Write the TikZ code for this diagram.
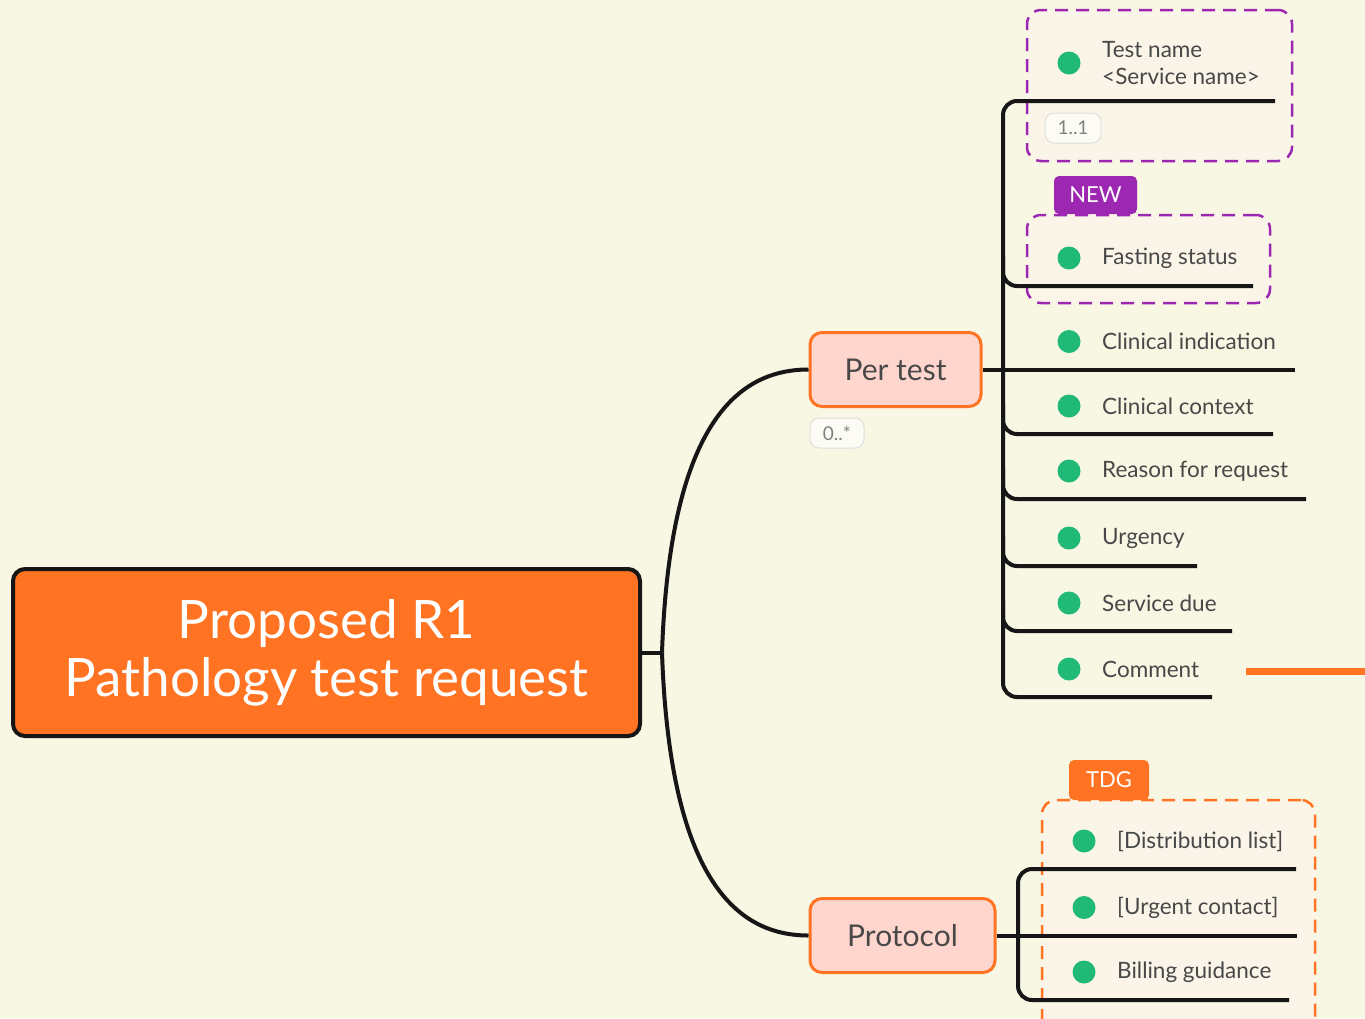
\documentclass[tikz,border=0pt]{standalone}
\usepackage{fontspec}
\setmainfont{Lato}
\usetikzlibrary{positioning}
\definecolor{cream}{RGB}{248,247,228}
\definecolor{cardfill}{RGB}{250,245,232}
\definecolor{boxorange}{RGB}{255,115,35}
\definecolor{pinkfill}{RGB}{255,214,206}
\definecolor{dotgreen}{RGB}{32,185,120}
\definecolor{tagpurple}{RGB}{156,39,176}
\definecolor{textgray}{RGB}{72,72,72}
\definecolor{branchblack}{RGB}{22,22,22}

\begin{document}
\begin{tikzpicture}[
x = 1pt, y = -1pt,
rootbox/.style={rectangle, align = center, 
draw = branchblack, line width = 4pt,
fill = boxorange, text = white, minimum width = 627pt, minimum height = 167pt, rounded corners = 12pt,
font = \fontsize{53}{58}\selectfont},
topicbox/.style={rectangle, align = center, 
draw = boxorange, line width = 3pt,
fill = pinkfill, text = textgray, minimum height = 74pt, rounded corners = 12pt,
font = \fontsize{30}{32}\selectfont},
groupbox/.style={rectangle, fill = cardfill, line width = 2.5pt, dash pattern = on 13pt off 8pt, rounded corners = 14pt},
tagbox/.style={rectangle, text = white, rounded corners = 5pt, inner sep = 0pt,
font = \fontsize{22}{24}\selectfont},
badge/.style={rectangle, fill = white!60!cream, draw = gray!25, line width = 1pt, rounded corners = 9pt,
text = gray, inner sep = 0pt, minimum height = 30pt, font = \fontsize{19}{22}\selectfont},
bullet/.style={circle, fill = dotgreen, minimum size = 23pt, inner sep = 0pt},
itemtext/.style={anchor = west, align = left, text = textgray, inner sep = 0pt,
font = \fontsize{22.5}{27}\selectfont},
branch/.style={draw = branchblack, line width = 4pt},
elbow/.style={branch, rounded corners = 14pt}]

\fill[cream] (0,0) rectangle (1365,1018);
\useasboundingbox (0,0) rectangle (1365,1018);

% dashed groups
\node[groupbox, draw = tagpurple, minimum width = 265pt, minimum height = 151pt] (grpname) at (1159.5,85.5) {};
\node[groupbox, draw = tagpurple, minimum width = 243pt, minimum height = 88pt] (grpfast) at (1148.5,259) {};
\node[groupbox, draw = boxorange, minimum width = 273pt, minimum height = 240pt] (grpproto) at (1178.5,920) {};
\node[tagbox, fill = tagpurple, minimum width = 83pt, minimum height = 38pt] (tagnew) at (1095.5,195) {NEW};
\node[tagbox, fill = boxorange, minimum width = 80pt, minimum height = 40pt] (tagtdg) at (1109,780) {TDG};

% main nodes
\node[rootbox] (root) at (326.5,652.5) {Proposed R1\\Pathology test request};
\node[topicbox, minimum width = 171pt] (pertest) at (895.5,369.5) {Per test};
\node[topicbox, minimum width = 185pt] (protocol) at (902.5,935.5) {Protocol};
\node[badge, minimum width = 54pt] (mult0) at (837,433) {0..*};
\node[badge, minimum width = 56pt] (mult1) at (1073,128) {1..1};

% root to topics
\draw[branch] (root.east) -- (662,652.5) coordinate (fork);
\draw[branch] (fork) .. controls (670,420) and (740,369.5) .. (pertest.west);
\draw[branch] (fork) .. controls (670,885) and (740,935.5) .. (protocol.west);

% per test items
\coordinate (ptrunk) at (1003,369.5);
\draw[branch] (pertest.east) -- (ptrunk);
\node[bullet] (dname) at (1069,63) {};
\node[itemtext] (tname) at (1102,63) {Test name\\<Service name>};
\coordinate (uname) at (1275,101);
\coordinate (ucomment) at (1212,697);
\draw[elbow] (uname) -| (ptrunk) |- (ucomment);
\foreach \i/\y/\xend/\txt in {fast/286/1253/Fasting status, indic/369.5/1295/Clinical indication,
  context/434/1273/Clinical context, reason/499/1306/Reason for request, urgency/566/1197/Urgency,
  due/631/1232/Service due, comment/697/1212/Comment}{
  \node[bullet] (d\i) at (1069,\y-28) {};
  \node[itemtext] (t\i) at (1102,\y-28) {\txt};
  \coordinate (u\i) at (\xend,\y);
}
\draw[branch] (ptrunk) -- (uindic);
\foreach \i in {fast, context, reason, urgency, due}
  \draw[elbow] ([yshift=30pt]ptrunk |- u\i) |- (u\i);

% protocol items
\coordinate (qtrunk) at (1018,935.5);
\draw[branch] (protocol.east) -- (qtrunk);
\foreach \i/\y/\xend/\txt in {dist/869/1296/{[Distribution list]}, contact/935.5/1297/{[Urgent contact]},
  billing/1000/1289/Billing guidance}{
  \node[bullet] (d\i) at (1084,\y-28) {};
  \node[itemtext] (t\i) at (1117,\y-28) {\txt};
  \coordinate (u\i) at (\xend,\y);
}
\draw[elbow] (udist) -| (qtrunk) |- (ubilling);
\draw[branch] (qtrunk) -- (ucontact);

% stray stub
\draw[boxorange, line width = 7pt] (1246,671) -- (1365,671);

\end{tikzpicture}
\end{document}
